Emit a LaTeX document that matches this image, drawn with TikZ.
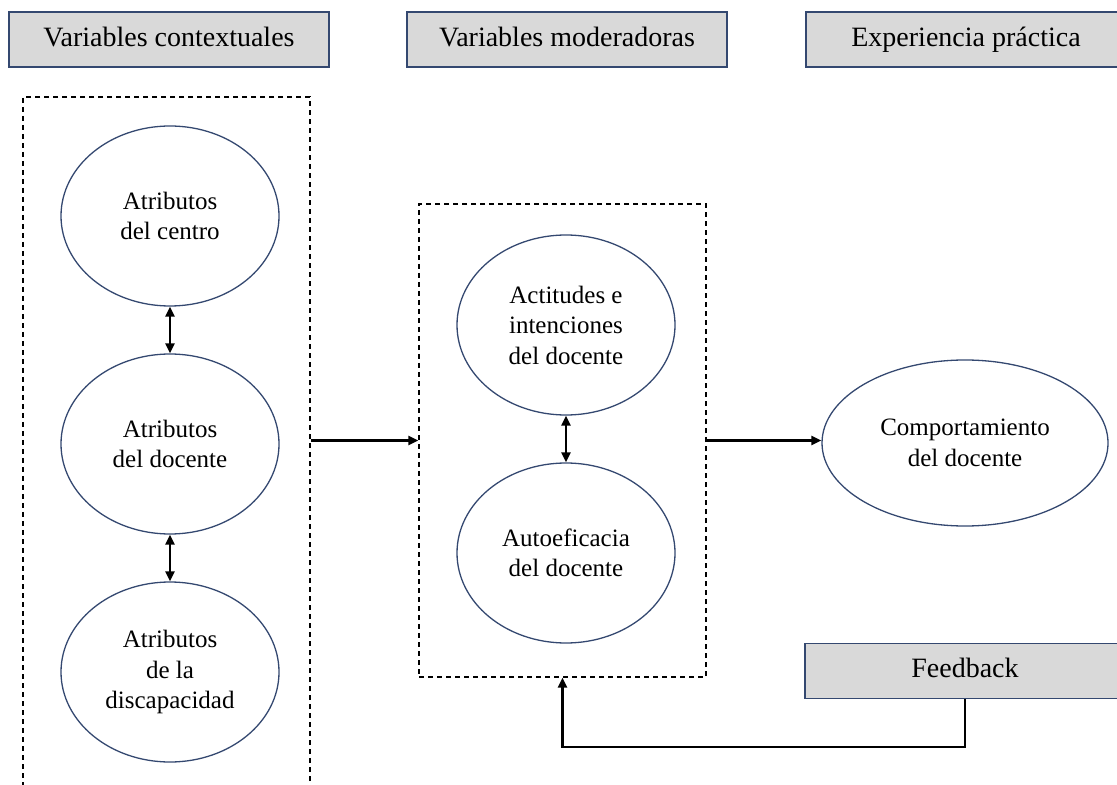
\documentclass[tikz,border=0pt]{standalone}
\usepackage{fontspec}
\setmainfont{Liberation Serif}
\usetikzlibrary{shapes.geometric,arrows.meta,positioning}
\definecolor{edgeblue}{RGB}{52,72,112}
\definecolor{headgray}{RGB}{217,217,217}
\tikzset{
  head/.style={rectangle,draw=edgeblue,fill=headgray,line width=0.7pt,minimum width=160pt,minimum height=27.5pt,inner sep=0pt,text height=9.6pt,text depth=3pt,font=\fontsize{14}{17}\selectfont},
  var/.style={ellipse,draw=edgeblue,line width=0.65pt,minimum width=109pt,minimum height=90pt,inner sep=0pt,align=center,font=\fontsize{12.5}{15.25}\selectfont},
  dashbox/.style={rectangle,draw,dash pattern=on 2.5pt off 2pt,line width=0.6pt,minimum width=143.5pt,inner sep=0pt},
  arr/.style={-{Triangle[length=5pt,width=4.5pt]},line width=1.1pt},
  dblarr/.style={{Triangle[length=5pt,width=4.5pt]}-{Triangle[length=5pt,width=4.5pt]},line width=1.1pt}
}
\begin{document}
\begin{tikzpicture}[x=0.5pt,y=-0.5pt,node distance=114pt]
   \useasboundingbox (0,0) rectangle (1117,785);
   \clip (0,0) rectangle (1117,785);
   % headers
   \node[head] (hctx) at (169,39.5) {Variables contextuales};
   \node[head] (hmod) at (567,39.5) {Variables moderadoras};
   \node[head] (hexp) at (966,39.5) {Experiencia práctica};
   % frames
   \node[dashbox,minimum height=351.5pt] (contx) at (166.5,448.5) {};
   \node[dashbox,minimum height=236.5pt] (moder) at (562.5,440.5) {};
   % variables
   \node[var] (centro)  at (170,216)        {Atributos\\del centro};
   \node[var] (docente) [below of=centro]  {Atributos\\del docente};
   \node[var] (discap)  [below of=docente] {Atributos\\de la\\discapacidad};
   \node[var] (actit)   at (566,325)        {Actitudes e\\intenciones\\del docente};
   \node[var] (autoef)  [below of=actit]    {Autoeficacia\\del docente};
   \node[var,minimum width=143pt,minimum height=83pt] (comport) at (965,443) {Comportamiento\\del docente};
   \node[head] (feedb) at (965,671) {Feedback};
   \coordinate (fbturn) at (562.5,747);
   % connectors
   \draw[dblarr] (centro) -- (docente);
   \draw[dblarr] (docente) -- (discap);
   \draw[dblarr] (actit) -- (autoef);
   \draw[arr] (contx.east |- moder.west) -- (moder.west);
   \draw[arr] (moder.east) -- (moder.east -| comport.west);
   \draw[arr] (feedb.south) |- (fbturn) -- (moder.south);
\end{tikzpicture}
\end{document}
